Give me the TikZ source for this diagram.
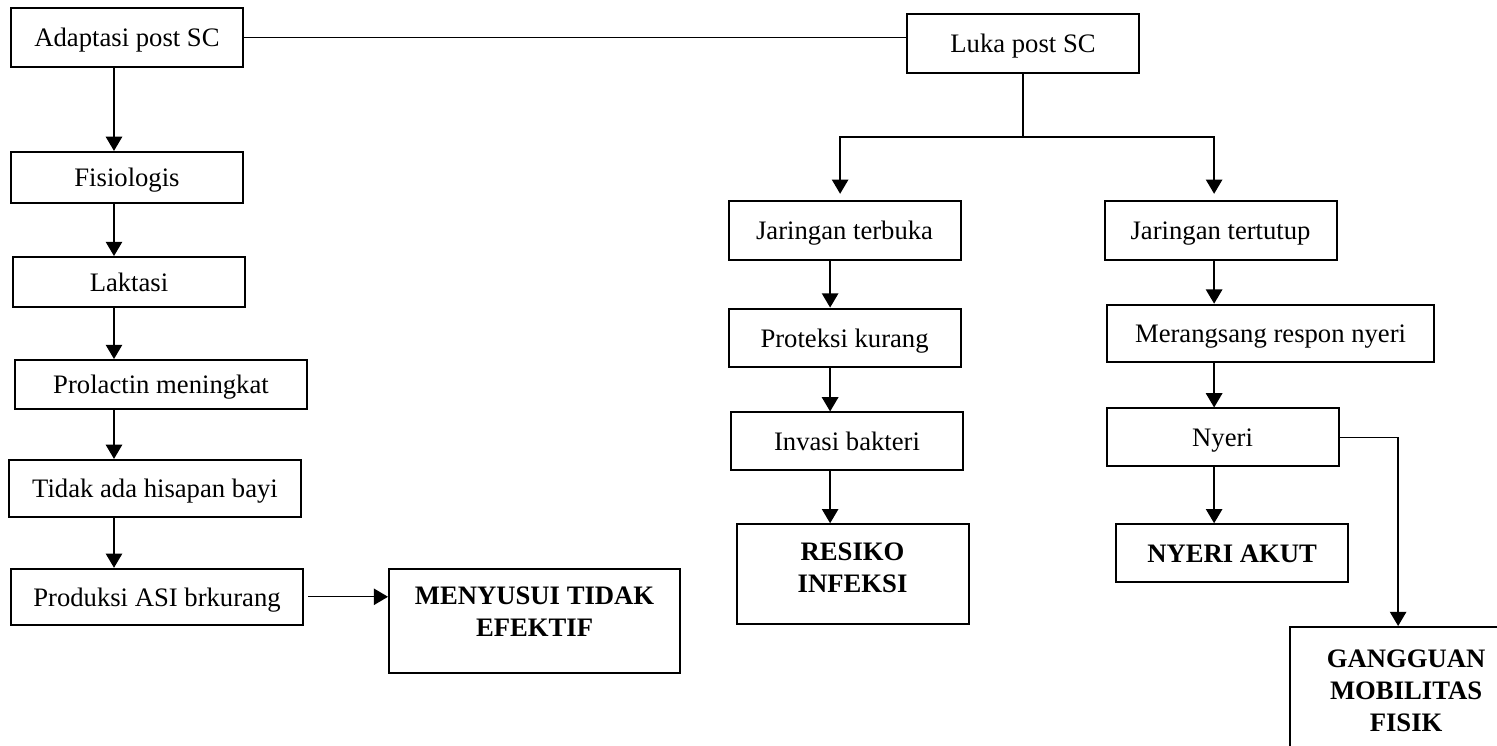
\documentclass[tikz,border=0pt]{standalone}
\usepackage{fontspec}
\setmainfont{Liberation Serif}
\usetikzlibrary{arrows.meta,positioning,calc}

\begin{document}
\begin{tikzpicture}[
    node distance=24pt and 38pt,
    every node/.style={font=\fontsize{12}{14.4}\selectfont},
    block/.style={rectangle, draw=black, line width=0.9pt, minimum width=104.4pt, minimum height=26pt, text centered, inner sep=2pt, text height=8.4pt, text depth=0pt},
    wideblock/.style={block, minimum width=131.4pt},
    diag/.style={block, font=\fontsize{12}{14.4}\selectfont\bfseries},
    diagtall/.style 2 args={diag, align=center, text height=#1, text depth=#2},
    arrow/.style={line width=0.6pt, -{Triangle[width=7.4pt,length=6.4pt]}},
    line/.style={line width=0.6pt}
]
    \useasboundingbox (0,0) rectangle (673.65pt,-335.25pt);

    % Nodes (left)
    \node[block, anchor=north west, minimum height=26.5pt] (adapt) at (4.5pt,-3.15pt) {Adaptasi post SC};
    \node[block, below=37.35pt of adapt, minimum height=23pt] (fisio) {Fisiologis};
    \node[block, below=23.4pt of fisio, minimum height=22.5pt, xshift=0.9pt] (lakt) {Laktasi};
    \node[wideblock, below=22.95pt of lakt, minimum height=22pt, xshift=14.4pt] (prol) {Prolactin meningkat};
    \node[wideblock, below=22.05pt of prol, minimum height=25.6pt, xshift=-2.7pt] (tidak) {Tidak ada hisapan bayi};
    \node[wideblock, below=22.5pt of tidak, minimum height=25.2pt, xshift=0.9pt] (prod) {Produksi ASI brkurang};
    \node[diagtall={28.6pt}{14.2pt}, minimum width=131pt, right=37.8pt of prod.north east, anchor=north west] (menyu) {MENYUSUI TIDAK\\EFEKTIF};

    % Nodes (right)
    \node[block, right=297.9pt of adapt, yshift=-2.7pt, minimum height=26.5pt] (luka) {Luka post SC};
    \node[block, below=56.65pt of luka, xshift=-80.3pt, minimum height=26.5pt] (jterb) {Jaringan terbuka};
    \node[block, right=63.9pt of jterb, minimum height=26.5pt] (jtert) {Jaringan tertutup};
    \node[block, below=21.1pt of jterb, minimum height=26.5pt] (prot) {Proteksi kurang};
    \node[block, below=19.35pt of prot, xshift=1.1pt] (invas) {Invasi bakteri};
    \node[diagtall={28.6pt}{12.4pt}, below=23.4pt of invas, xshift=2.5pt] (resiko) {RESIKO\\INFEKSI};
    \node[block, below=19.35pt of jtert, xshift=22.5pt, minimum width=147pt] (meran) {Merangsang respon nyeri};
    \node[block, below=19.8pt of meran, xshift=-21.6pt] (nyeri) {Nyeri};
    \node[diag, below=25.2pt of nyeri, xshift=4.3pt] (akut) {NYERI AKUT};
    \node[diagtall={44.8pt}{20pt}, below=19.35pt of akut.south east, anchor=north west, xshift=-27pt] (gang) {GANGGUAN\\MOBILITAS\\FISIK};

    % Arrows
    \coordinate (lx) at ([xshift=-5.85pt]adapt.south);
    \coordinate (mx) at ([xshift=-6.5pt]jterb.south);
    \coordinate (rx) at ([xshift=-2.9pt]jtert.south);
    \draw[line] (adapt.east) -- (adapt.east -| luka.west);
    \draw[arrow] (adapt.south -| lx) -- (fisio.north -| lx);
    \draw[arrow] (fisio.south -| lx) -- (lakt.north -| lx);
    \draw[arrow] (lakt.south -| lx) -- (prol.north -| lx);
    \draw[arrow] (prol.south -| lx) -- (tidak.north -| lx);
    \draw[arrow] (tidak.south -| lx) -- (prod.north -| lx);
    \draw[arrow, shorten <=1.8pt] (prod.east) -- (prod.east -| menyu.west);

    \draw[line] (luka.south) -- ++(0,-28.35pt) coordinate (split);
    \draw[arrow, shorten >=2.7pt] (split) -| ([xshift=-2pt]jterb.north);
    \draw[arrow, shorten >=2.7pt] (split) -| (jtert.north -| rx);
    \draw[arrow] (jterb.south -| mx) -- (prot.north -| mx);
    \draw[arrow] (prot.south -| mx) -- (invas.north -| mx);
    \draw[arrow] (invas.south -| mx) -- (resiko.north -| mx);
    \draw[arrow] (jtert.south -| rx) -- (meran.north -| rx);
    \draw[arrow] (meran.south -| rx) -- (nyeri.north -| rx);
    \draw[arrow] (nyeri.south -| rx) -- (akut.north -| rx);
    \draw[arrow] (nyeri.east) -| ([xshift=-3.6pt]gang.north);

\end{tikzpicture}
\end{document}
